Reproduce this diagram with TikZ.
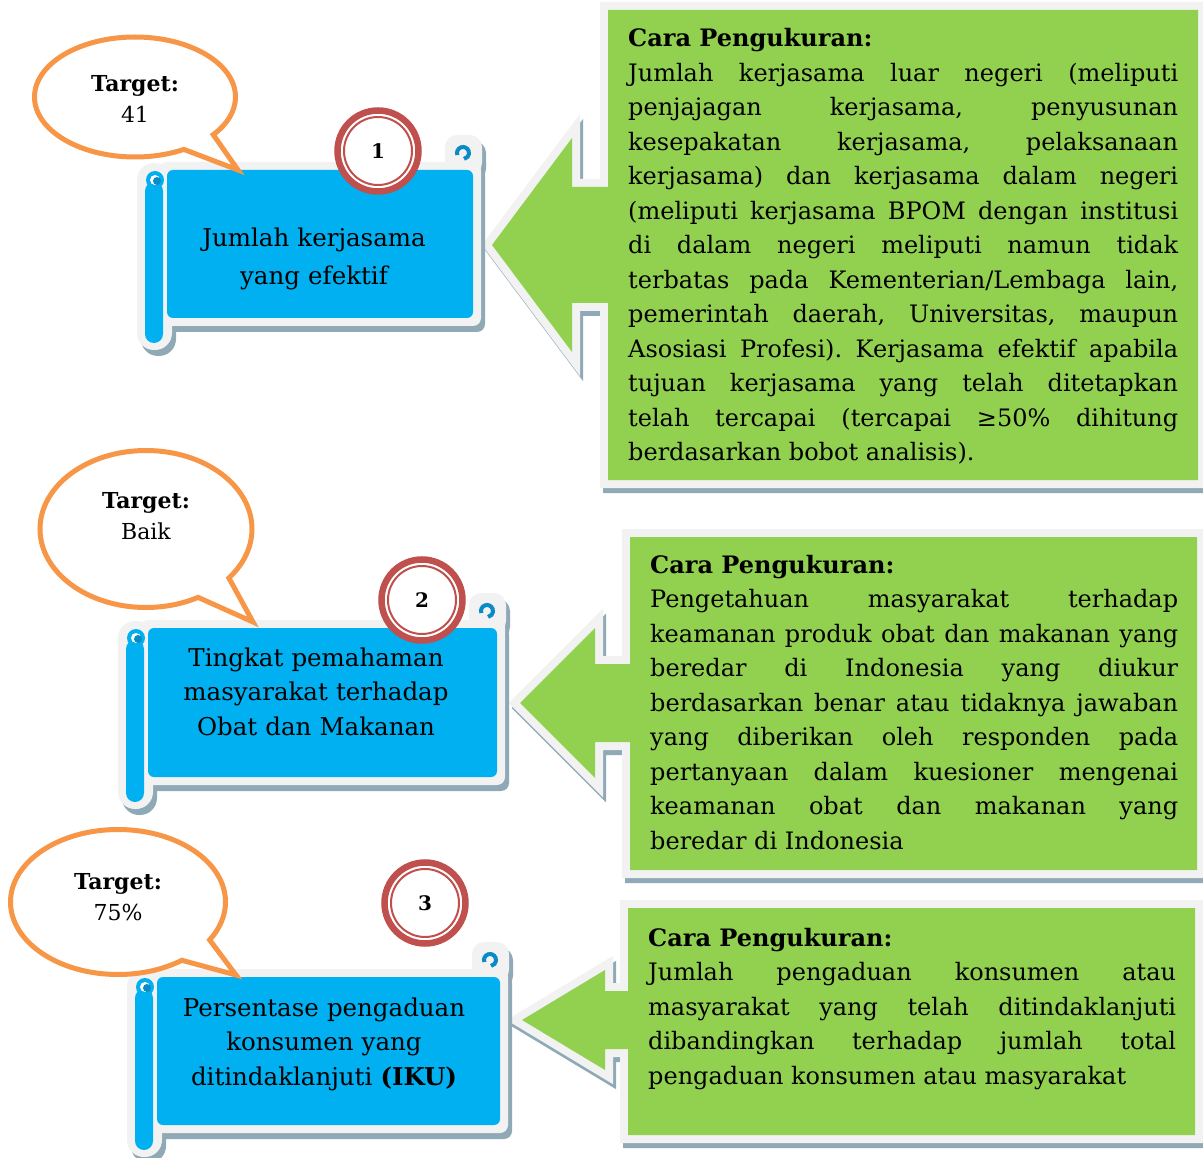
\documentclass[tikz,border=0pt]{standalone}
\usepackage{fontspec}
\setmainfont{DejaVu Serif}
\usetikzlibrary{shapes.callouts}
\definecolor{biruscroll}{HTML}{00B0F0}
\definecolor{birutua}{HTML}{0A8BC6}
\definecolor{hijaukotak}{HTML}{92D050}
\definecolor{oranye}{HTML}{F79646}
\definecolor{merahbata}{HTML}{C0504D}
\definecolor{abuterang}{HTML}{F2F2F2}
\definecolor{bayangan}{HTML}{8FA9B6}
\frenchspacing
\hyphenpenalty=10000
\tolerance=10000

% gulungan biru: #1 kiri, #2 atas, #3 kanan, #4 bawah
\newcommand{\gulungan}[4]{%
  \fill[bayangan, rounded corners=8pt] (#1-8+4,#2-8+6) rectangle (#3+8+4,#4+8+6);
  \fill[bayangan, rounded corners=17pt] (#1-30+4,#2-7+6) rectangle (#1+5+4,#4+32+6);
  \fill[bayangan, rounded corners=12pt] (#3-28+4,#2-35+6) rectangle (#3+9+4,#2+5+6);
  \fill[abuterang, rounded corners=8pt] (#1-8,#2-8) rectangle (#3+8,#4+8);
  \fill[abuterang, rounded corners=17pt] (#1-30,#2-7) rectangle (#1+5,#4+32);
  \fill[abuterang, rounded corners=12pt] (#3-28,#2-35) rectangle (#3+9,#2+5);
  \fill[biruscroll, rounded corners=6pt] (#1,#2) rectangle (#3,#4);
  \fill[biruscroll, rounded corners=9pt] (#1-22,#2+12) rectangle (#1-4,#4+25);
  \fill[biruscroll] (#1-12,#2+10) circle[radius=9];
  \fill[white] (#1-12,#2+10) circle[radius=5];
  \fill[birutua] (#1-10,#2+11) circle[radius=4];
  \draw[birutua, line width=4pt] (#3-10,#2-17) ++(160:6) arc[start angle=160, end angle=440, radius=6];
}

% kotak hijau berpanah: ujung (#1,#2), pangkal kepala #3, setengah kepala #4,
% setengah batang #5, kotak #6 #7 #8 #9
\newcommand{\kotakpanah}[9]{%
  \begin{scope}[shift={(3,5)}]
    \filldraw[bayangan, line width=16pt] (#1,#2) -- (#3,#2-#4) -- (#3,#2-#5) -- (#6,#2-#5) -- (#6,#7) -- (#8,#7) -- (#8,#9) -- (#6,#9) -- (#6,#2+#5) -- (#3,#2+#5) -- (#3,#2+#4) -- cycle;
  \end{scope}
  \filldraw[abuterang, line width=16pt] (#1,#2) -- (#3,#2-#4) -- (#3,#2-#5) -- (#6,#2-#5) -- (#6,#7) -- (#8,#7) -- (#8,#9) -- (#6,#9) -- (#6,#2+#5) -- (#3,#2+#5) -- (#3,#2+#4) -- cycle;
  \fill[hijaukotak] (#1,#2) -- (#3,#2-#4) -- (#3,#2-#5) -- (#6,#2-#5) -- (#6,#7) -- (#8,#7) -- (#8,#9) -- (#6,#9) -- (#6,#2+#5) -- (#3,#2+#5) -- (#3,#2+#4) -- cycle;
}

\tikzset{
  gelembung/.style={ellipse callout, draw=oranye, fill=white, line width=5pt,
    inner sep=0pt, callout pointer arc=22},
  lencana/.style={circle, draw=merahbata, fill=white, line width=6.5pt,
    minimum size=81pt, inner sep=0pt, font=\fontsize{20}{24}\selectfont\bfseries},
  judul/.style={text width=340pt, align=center, inner sep=0pt, anchor=base,
    font=\fontsize{24.5}{34.5}\selectfont},
  teksgel/.style={text width=160pt, align=center, inner sep=0pt, anchor=base,
    font=\fontsize{22}{31}\selectfont},
  keterangan/.style={align=justify, inner sep=0pt, anchor=base west,
    font=\fontsize{24}{34.5}\selectfont},
}

\begin{document}
\begin{tikzpicture}[x=1pt, y=-1pt]
\useasboundingbox (0,0) rectangle (1203,1158);

\kotakpanah{492}{245}{572}{107}{58}{608}{10}{1198}{480}
\kotakpanah{520}{703}{595}{75}{39}{630}{537}{1197}{870}
\kotakpanah{522}{1020}{605}{50}{29}{628}{908}{1195}{1135}

\gulungan{167}{170}{473}{318}
\gulungan{148}{628}{497}{777}
\gulungan{157}{977}{500}{1125}

\node[gelembung, minimum width=201pt, minimum height=120pt,
  callout absolute pointer={(238,170)}] (gel1) at (135,97) {};
\node[gelembung, minimum width=212pt, minimum height=157pt,
  callout absolute pointer={(253,622)}] (gel2) at (146,529) {};
\node[gelembung, minimum width=215pt, minimum height=145pt,
  callout absolute pointer={(236,975)}] (gel3) at (118,902) {};

\node[teksgel] (tgt1) at (135,92) {\textbf{Target:}\\41};
\node[teksgel] (tgt2) at (146,508) {\textbf{Target:}\\Baik};
\node[teksgel] (tgt3) at (118,889) {\textbf{Target:}\\75\%};

\node[lencana] (no1) at (378,151) {1};
\draw[merahbata, line width=2pt] (no1.center) circle[radius=34];
\node[lencana] (no2) at (422,600) {2};
\draw[merahbata, line width=2pt] (no2.center) circle[radius=34];
\node[lencana] (no3) at (425,903) {3};
\draw[merahbata, line width=2pt] (no3.center) circle[radius=34];

\node[judul, font=\fontsize{24.5}{38}\selectfont] (ind1) at (314,247)
  {Jumlah kerjasama\\yang efektif};
\node[judul] (ind2) at (316,666)
  {Tingkat pemahaman\\masyarakat terhadap\\Obat dan Makanan};
\node[judul] (ind3) at (324,1016)
  {Persentase pengaduan\\konsumen yang\\ditindaklanjuti \textbf{(IKU)}};

\node[keterangan, text width=550pt] (cara1) at (628,47)
  {\textbf{Cara Pengukuran:}\\
  Jumlah kerjasama luar negeri (meliputi\linebreak
  penjajagan kerjasama, penyusunan\linebreak
  kesepakatan kerjasama, pelaksanaan\linebreak
  kerjasama) dan kerjasama dalam negeri\linebreak
  (meliputi kerjasama BPOM dengan institusi\linebreak
  di dalam negeri meliputi namun tidak\linebreak
  terbatas pada Kementerian/Lembaga lain,\linebreak
  pemerintah daerah, Universitas, maupun\linebreak
  Asosiasi Profesi). Kerjasama efektif apabila\linebreak
  tujuan kerjasama yang telah ditetapkan\linebreak
  telah tercapai (tercapai ≥50\% dihitung\linebreak
  berdasarkan bobot analisis).};
\node[keterangan, text width=528pt] (cara2) at (650,573)
  {\textbf{Cara Pengukuran:}\\
  Pengetahuan masyarakat terhadap\linebreak
  keamanan produk obat dan makanan yang\linebreak
  beredar di Indonesia yang diukur\linebreak
  berdasarkan benar atau tidaknya jawaban\linebreak
  yang diberikan oleh responden pada\linebreak
  pertanyaan dalam kuesioner mengenai\linebreak
  keamanan obat dan makanan yang\linebreak
  beredar di Indonesia};
\node[keterangan, text width=528pt] (cara3) at (648,946)
  {\textbf{Cara Pengukuran:}\\
  Jumlah pengaduan konsumen atau\linebreak
  masyarakat yang telah ditindaklanjuti\linebreak
  dibandingkan terhadap jumlah total\linebreak
  pengaduan konsumen atau masyarakat};
\end{tikzpicture}
\end{document}
